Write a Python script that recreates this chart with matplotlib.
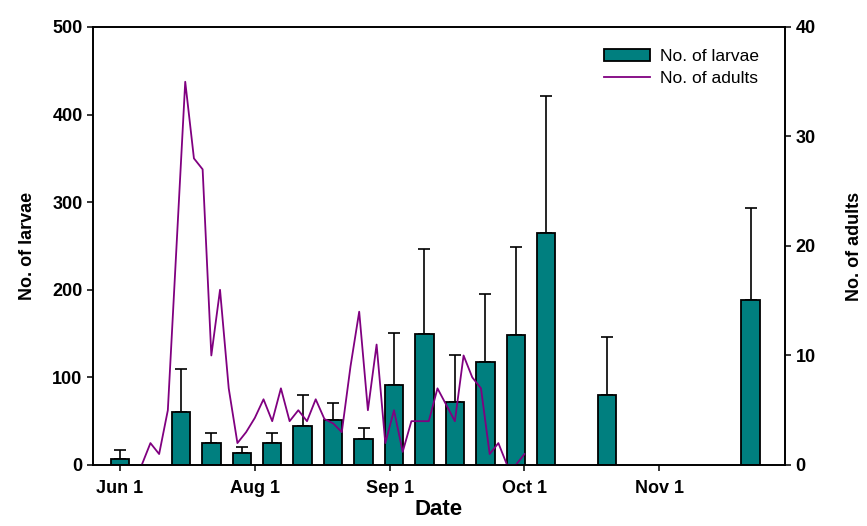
import matplotlib
matplotlib.use("Agg")
import matplotlib.pyplot as plt
import numpy as np

plt.rcParams['font.family'] = ['Liberation Sans', 'DejaVu Sans']

# larvae (weekly samples, days after Jun 1 as drawn on the axis)
larvae_day = [0, 14, 21, 28, 35, 42, 49, 56, 63, 70, 77, 84, 91, 98, 112, 145]
larvae = [6.5, 61, 25.5, 14, 25.5, 45, 51, 30, 91, 150, 72, 118, 148, 265, 80, 188]
larvae_err = [10.5, 49, 11.5, 6.5, 10.5, 34.5, 19.5, 12, 60, 96, 53, 77, 101, 156, 66, 105]

# adults
adult_day = [5, 7, 9, 11, 15, 17, 19, 21, 23, 25, 27, 29, 31, 33, 35, 37, 39, 41, 43, 45,
             47, 49, 51, 53, 55, 57, 59, 61, 63, 65, 67, 69, 71, 73, 75, 77, 79, 81, 83,
             85, 87, 89, 91, 93]
adults = [0, 2, 1, 5, 35, 28, 27, 10, 16, 7, 2, 3, 4.3, 6, 4, 7, 4, 5, 4, 6,
          4.2, 3.8, 3, 9, 14, 5, 11, 2, 5, 1.2, 4, 4, 4, 7, 5.5, 4, 10, 8, 7,
          1, 2, 0, 0, 1]

tick_day = [0, 31, 62, 93, 124]
tick_lab = ['Jun 1', 'Aug 1', 'Sep 1', 'Oct 1', 'Nov 1']

fig = plt.figure(figsize=(8.67, 5.26), dpi=100)
ax = fig.add_axes([0.1073, 0.116, 0.7981, 0.8327])
ax2 = ax.twinx()

teal = '#007f7f'
purple = '#800080'

ax.bar(larvae_day, larvae, width=4.25, color=teal, edgecolor='black', linewidth=1.3,
       label='No. of larvae', zorder=2)
ax.errorbar(larvae_day, larvae, yerr=[np.zeros(len(larvae)), larvae_err], fmt='none',
            ecolor='black', elinewidth=1.2, capsize=4.5, capthick=1.2, zorder=1)
ax2.plot(adult_day, adults, color=purple, linewidth=1.3, label='No. of adults')

ax.set_xlim(-6.2, 152.9)
ax.set_ylim(0, 500)
ax2.set_ylim(0, 40)
ax.set_xticks(tick_day)
ax.set_xticklabels(tick_lab)
ax.set_yticks(range(0, 501, 100))
ax2.set_yticks(range(0, 41, 10))

for a in (ax, ax2):
    a.tick_params(direction='out', length=4, width=1.1, labelsize=13)
    for lab in a.get_xticklabels() + a.get_yticklabels():
        lab.set_fontweight('bold')
    for s in a.spines.values():
        s.set_linewidth(1.2)
ax.tick_params(axis='x', pad=7)

ax.set_xlabel('Date', fontsize=16, fontweight='bold', labelpad=1)
ax.set_ylabel('No. of larvae', fontsize=13, fontweight='bold', labelpad=12)
ax2.set_ylabel('No. of adults', fontsize=13, fontweight='bold', labelpad=22)

h1, l1 = ax.get_legend_handles_labels()
h2, l2 = ax2.get_legend_handles_labels()
ax2.legend(h1 + h2, l1 + l2, loc='upper right', frameon=False, fontsize=12.5,
           handlelength=2.6, handletextpad=0.6, labelspacing=0.4,
           bbox_to_anchor=(0.985, 0.985))

fig.savefig('out.png', dpi=100)
